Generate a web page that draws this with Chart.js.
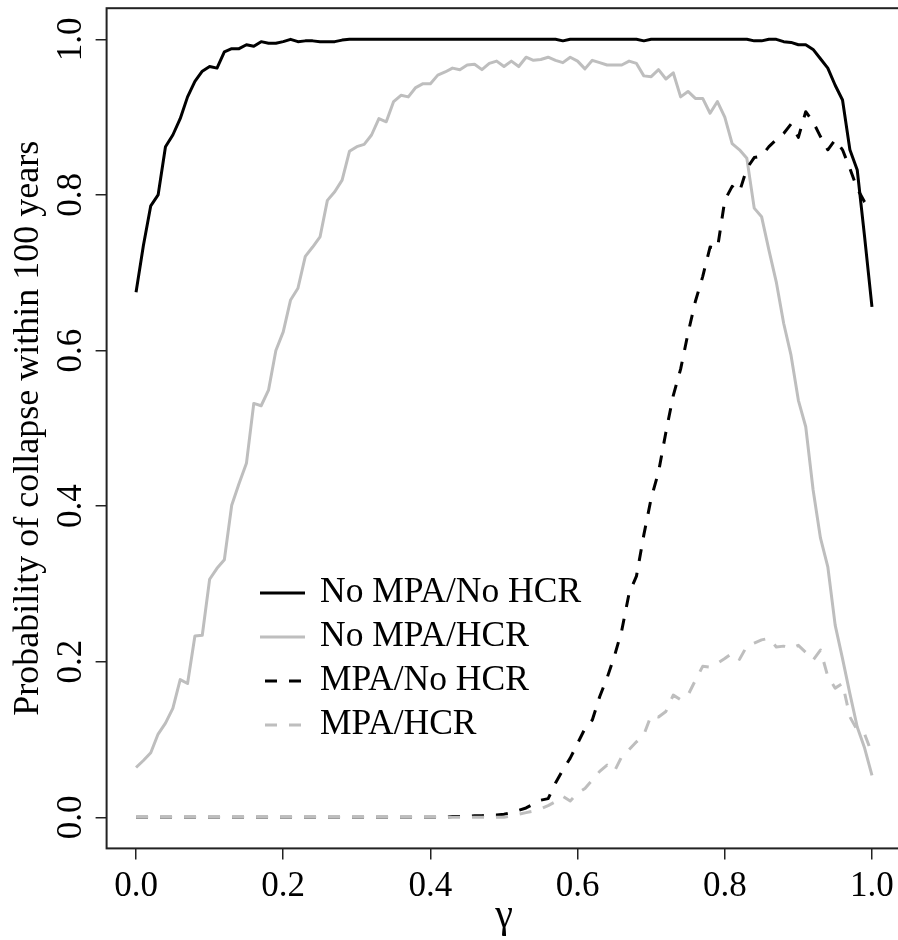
<!DOCTYPE html>
<html>
<head>
<meta charset="utf-8">
<script src="https://cdn.jsdelivr.net/npm/chart.js@4"></script>
<style>
  html, body { margin: 0; padding: 0; background: #fff; overflow: hidden; }
  #wrap { width: 904px; height: 940px; }
</style>
</head>
<body>
<div id="wrap"><canvas id="chart" width="904" height="940"></canvas></div>
<script>
// gamma grid (x values)
const gamma = [0, 0.01, 0.02, 0.03, 0.04, 0.05, 0.06, 0.07, 0.08, 0.09,
  0.1, 0.11, 0.12, 0.13, 0.14, 0.15, 0.16, 0.17, 0.18, 0.19,
  0.2, 0.21, 0.22, 0.23, 0.24, 0.25, 0.26, 0.27, 0.28, 0.29,
  0.3, 0.31, 0.32, 0.33, 0.34, 0.35, 0.36, 0.37, 0.38, 0.39,
  0.4, 0.41, 0.42, 0.43, 0.44, 0.45, 0.46, 0.47, 0.48, 0.49,
  0.5, 0.51, 0.52, 0.53, 0.54, 0.55, 0.56, 0.57, 0.58, 0.59,
  0.6, 0.61, 0.62, 0.63, 0.64, 0.65, 0.66, 0.67, 0.68, 0.69,
  0.7, 0.71, 0.72, 0.73, 0.74, 0.75, 0.76, 0.77, 0.78, 0.79,
  0.8, 0.81, 0.82, 0.83, 0.84, 0.85, 0.86, 0.87, 0.88, 0.89,
  0.9, 0.91, 0.92, 0.93, 0.94, 0.95, 0.96, 0.97, 0.98, 0.99, 1];

// probability of collapse
const noMpaNoHcr = [0.675, 0.735, 0.786, 0.800, 0.862, 0.877, 0.898, 0.926, 0.946, 0.959,
  0.965, 0.963, 0.984, 0.988, 0.988, 0.993, 0.991, 0.997, 0.995, 0.995,
  0.997, 1.000, 0.997, 0.998, 0.998, 0.997, 0.997, 0.997, 0.999, 1.000,
  1.000, 1.000, 1.000, 1.000, 1.000, 1.000, 1.000, 1.000, 1.000, 1.000,
  1.000, 1.000, 1.000, 1.000, 1.000, 1.000, 1.000, 1.000, 1.000, 1.000,
  1.000, 1.000, 1.000, 1.000, 1.000, 1.000, 1.000, 1.000, 0.998, 1.000,
  1.000, 1.000, 1.000, 1.000, 1.000, 1.000, 1.000, 1.000, 1.000, 0.998,
  1.000, 1.000, 1.000, 1.000, 1.000, 1.000, 1.000, 1.000, 1.000, 1.000,
  1.000, 1.000, 1.000, 1.000, 0.998, 0.998, 1.000, 1.000, 0.997, 0.996,
  0.993, 0.993, 0.987, 0.975, 0.963, 0.941, 0.922, 0.858, 0.832, 0.746, 0.656];

const noMpaHcr = [0.064, 0.073, 0.083, 0.107, 0.121, 0.140, 0.177, 0.172, 0.233, 0.234,
  0.306, 0.320, 0.331, 0.401, 0.429, 0.455, 0.532, 0.529, 0.549, 0.600,
  0.624, 0.665, 0.680, 0.721, 0.733, 0.746, 0.793, 0.804, 0.819, 0.856,
  0.862, 0.865, 0.877, 0.898, 0.894, 0.920, 0.928, 0.926, 0.938, 0.943,
  0.943, 0.954, 0.958, 0.963, 0.961, 0.967, 0.968, 0.961, 0.969, 0.972,
  0.965, 0.972, 0.965, 0.977, 0.973, 0.974, 0.977, 0.973, 0.970, 0.977,
  0.972, 0.962, 0.973, 0.970, 0.967, 0.967, 0.967, 0.972, 0.969, 0.953,
  0.952, 0.961, 0.949, 0.957, 0.926, 0.933, 0.924, 0.924, 0.905, 0.920,
  0.900, 0.866, 0.858, 0.847, 0.783, 0.772, 0.729, 0.688, 0.635, 0.594,
  0.536, 0.502, 0.421, 0.359, 0.322, 0.247, 0.204, 0.159, 0.116, 0.089, 0.054];

const mpaNoHcr = [0, 0, 0, 0, 0, 0, 0, 0, 0, 0,
  0, 0, 0, 0, 0, 0, 0, 0, 0, 0,
  0, 0, 0, 0, 0, 0, 0, 0, 0, 0,
  0, 0, 0, 0, 0, 0, 0, 0, 0, 0,
  0, 0, 0, 0.001, 0.001, 0.001, 0.002, 0.002, 0.003, 0.003,
  0.004, 0.006, 0.009, 0.012, 0.017, 0.022, 0.024, 0.044, 0.061, 0.076,
  0.095, 0.114, 0.125, 0.155, 0.179, 0.207, 0.240, 0.288, 0.310, 0.363,
  0.410, 0.444, 0.495, 0.542, 0.576, 0.622, 0.663, 0.695, 0.733, 0.731,
  0.793, 0.811, 0.804, 0.834, 0.848, 0.850, 0.862, 0.871, 0.879, 0.891,
  0.874, 0.907, 0.894, 0.875, 0.858, 0.871, 0.858, 0.834, 0.808, 0.791, 0.780];

const mpaHcr = [0, 0, 0, 0, 0, 0, 0, 0, 0, 0,
  0, 0, 0, 0, 0, 0, 0, 0, 0, 0,
  0, 0, 0, 0, 0, 0, 0, 0, 0, 0,
  0, 0, 0, 0, 0, 0, 0, 0, 0, 0,
  0, 0, 0, 0, 0, 0, 0, 0, 0, 0,
  0, 0.002, 0.004, 0.006, 0.008, 0.011, 0.015, 0.020, 0.027, 0.021,
  0.031, 0.037, 0.048, 0.059, 0.067, 0.059, 0.078, 0.087, 0.097, 0.106,
  0.131, 0.129, 0.136, 0.157, 0.151, 0.157, 0.176, 0.194, 0.193, 0.198,
  0.204, 0.211, 0.203, 0.220, 0.224, 0.228, 0.230, 0.219, 0.220, 0.217,
  0.221, 0.212, 0.202, 0.215, 0.181, 0.166, 0.172, 0.129, 0.112, 0.107, 0.082];

const seriesNames = ["No MPA/No HCR", "No MPA/HCR", "MPA/No HCR", "MPA/HCR"];
const tickValues = [0, 0.2, 0.4, 0.6, 0.8, 1.0];
const tickLabels = ["0.0", "0.2", "0.4", "0.6", "0.8", "1.0"];

const FONT = "'Liberation Serif', 'Times New Roman', serif";
const GREY = "#bebebe";

function points(values) {
  return values.map((v, i) => ({ x: gamma[i], y: v }));
}

// frame round the plot region, like R's box()
const boxPlugin = {
  id: "box",
  afterDatasetsDraw(chart) {
    const { ctx, chartArea: a } = chart;
    ctx.save();
    ctx.strokeStyle = "#222";
    ctx.lineWidth = 2;
    ctx.strokeRect(a.left, a.top, a.right - a.left, a.bottom - a.top);
    ctx.restore();
  },
};

// legend drawn inside the plot area
const insideLegend = {
  id: "insideLegend",
  afterDraw(chart) {
    const ctx = chart.ctx;
    ctx.save();
    ctx.font = "35.5px " + FONT;
    ctx.textBaseline = "middle";
    ctx.textAlign = "left";
    chart.data.datasets.forEach((ds, i) => {
      const y = 593 + i * 44;
      ctx.strokeStyle = ds.borderColor;
      ctx.lineWidth = ds.borderWidth;
      ctx.setLineDash(ds.borderDash || []);
      ctx.lineDashOffset = 19;
      ctx.beginPath();
      ctx.moveTo(260, y);
      ctx.lineTo(305, y);
      ctx.stroke();
      ctx.setLineDash([]);
      ctx.fillStyle = "#000";
      ctx.fillText(ds.label, 320, y);
    });
    ctx.restore();
  },
};

const setTicks = (scale) => {
  scale.ticks = tickValues.map((v) => ({ value: v }));
};

new Chart(document.getElementById("chart"), {
  type: "line",
  data: {
    datasets: [
      { label: seriesNames[0], data: points(noMpaNoHcr), borderColor: "#000", borderWidth: 3, order: 4 },
      { label: seriesNames[1], data: points(noMpaHcr), borderColor: GREY, borderWidth: 3, order: 3 },
      { label: seriesNames[2], data: points(mpaNoHcr), borderColor: "#000", borderWidth: 3, borderDash: [12, 12], order: 2 },
      { label: seriesNames[3], data: points(mpaHcr), borderColor: GREY, borderWidth: 3, borderDash: [12, 12], order: 1 },
    ],
  },
  options: {
    responsive: false,
    animation: false,
    events: [],
    elements: {
      point: { radius: 0 },
      line: { tension: 0, borderJoinStyle: "round", fill: false },
    },
    layout: { padding: { top: 8.2, right: 2.6, left: 0, bottom: 0 } },
    plugins: { legend: { display: false }, tooltip: { enabled: false } },
    scales: {
      x: {
        type: "linear",
        min: -0.04,
        max: 1.04,
        afterBuildTicks: setTicks,
        afterFit: (s) => { s.height = 91.6; s.paddingLeft = 0; s.paddingRight = 0; },
        border: { display: false },
        grid: { drawOnChartArea: false, drawTicks: true, tickLength: 11, color: "#222", lineWidth: 1.5 },
        ticks: {
          autoSkip: false,
          maxRotation: 0,
          padding: 6,
          color: "#000",
          font: { family: FONT, size: 35 },
          callback: (v, i) => tickLabels[i],
        },
        title: {
          display: true,
          text: "γ",
          color: "#000",
          font: { family: FONT, size: 40 },
          padding: { top: 0, bottom: 0 },
        },
      },
      y: {
        type: "linear",
        min: -0.04,
        max: 1.04,
        afterBuildTicks: setTicks,
        afterFit: (s) => { s.width = 106.6; s.paddingTop = 0; s.paddingBottom = 0; },
        border: { display: false },
        grid: { drawOnChartArea: false, drawTicks: true, tickLength: 11, color: "#222", lineWidth: 1.5 },
        ticks: {
          autoSkip: false,
          minRotation: 90,
          maxRotation: 90,
          crossAlign: "center",
          padding: 2,
          color: "#000",
          font: { family: FONT, size: 35 },
          callback: (v, i) => tickLabels[i],
        },
        title: {
          display: true,
          text: "Probability of collapse within 100 years",
          color: "#000",
          font: { family: FONT, size: 36 },
          padding: { top: 7, bottom: 0 },
        },
      },
    },
  },
  plugins: [boxPlugin, insideLegend],
});
</script>
</body>
</html>
